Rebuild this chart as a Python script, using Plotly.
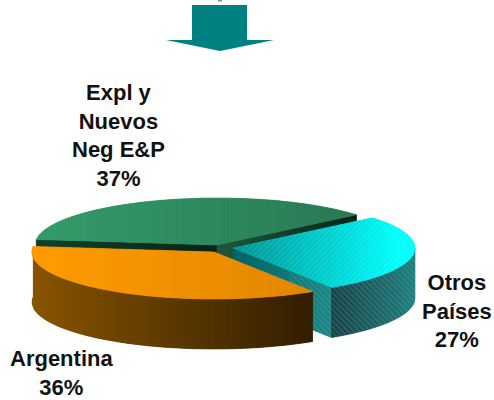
import math
import plotly.graph_objects as go

categories = ["Expl y<br>Nuevos<br>Neg E&P", "Argentina", "Otros<br>Países"]
values = [37, 36, 27]
START = 40.0

A, B, H = 182, 47, 50
CENTERS = [(217, 245), (214, 252), (233, 248)]
LABEL_POS = [(118, 135.5), (61, 373), (457, 311)]

fig = go.Figure()

def lerp(c0, c1, t):
    return tuple(c0[i] + (c1[i] - c0[i]) * t for i in range(3))

def rgb(c):
    return "rgb(%d,%d,%d)" % tuple(round(v) for v in c)

def pt(c, ang, dy=0):
    r = math.radians(ang)
    return (c[0] + A * math.cos(r), c[1] - B * math.sin(r) + dy)

def arc(c, a0, a1, dy=0):
    n = max(2, int(abs(a1 - a0) * 2))
    return [pt(c, a0 + (a1 - a0) * i / n, dy) for i in range(n + 1)]

def clip(poly, x0, x1):
    def half(p, keep, inter):
        out = []
        for i in range(len(p)):
            a, b = p[i], p[(i + 1) % len(p)]
            if keep(a):
                out.append(a)
            if keep(a) != keep(b):
                out.append(inter(a, b))
        return out
    def ix(x):
        return lambda a, b: (x, a[1] + (b[1] - a[1]) * (x - a[0]) / (b[0] - a[0]))
    p = half(poly, lambda q: q[0] >= x0, ix(x0))
    return half(p, lambda q: q[0] <= x1, ix(x1)) if p else p

def add_poly(poly, color, width=1.0, **kw):
    xs = [q[0] for q in poly] + [poly[0][0]]
    ys = [q[1] for q in poly] + [poly[0][1]]
    fig.add_trace(go.Scatter(x=xs, y=ys, mode="lines", fill="toself", fillcolor=color,
                             line=dict(color=color, width=width), hoverinfo="skip",
                             showlegend=False, **kw))

def gradient(poly, stops, step=3):
    xmin = min(q[0] for q in poly)
    xmax = max(q[0] for q in poly)
    # a base fill under the slices hides any seam between them
    mid = rgb(lerp(stops[2], stops[3], 0.5))
    add_poly(poly, mid, width=0)
    x = xmin
    while x < xmax:
        x1 = min(x + step, xmax)
        part = clip(poly, x, x1)
        if len(part) > 2:
            t = ((x + x1) / 2 - stops[0]) / (stops[1] - stops[0])
            t = min(1, max(0, t))
            add_poly(part, rgb(lerp(stops[2], stops[3], t)), width=0.6)
        x = x1

def hatch(poly, shape, fg, opacity, size=4, solidity=0.3):
    xs = [q[0] for q in poly] + [poly[0][0]]
    ys = [q[1] for q in poly] + [poly[0][1]]
    fig.add_trace(go.Scatter(x=xs, y=ys, mode="lines", fill="toself", fillcolor="rgba(0,0,0,0)",
                             line=dict(width=0), hoverinfo="skip", showlegend=False,
                             fillpattern=dict(shape=shape, fgcolor=fg, bgcolor="rgba(0,0,0,0)",
                                              fgopacity=opacity, size=size, solidity=solidity)))

total = sum(values)
angles = [START]
for v in values:
    angles.append(angles[-1] + v / total * 360)

c_g, c_o, c_c = CENTERS
g0, g1 = angles[0], angles[1]
o0, o1 = angles[1], angles[2]
c0, c1 = angles[2], angles[3]

# green cut faces
p_left = pt(c_g, g1)
p_right = pt(c_g, g0)
gradient([c_g, p_left, (p_left[0], p_left[1] + H), (c_g[0], c_g[1] + H)],
         (36, 217, (20, 65, 45), (8, 36, 24)))
gradient([c_g, p_right, (p_right[0], p_right[1] + H), (c_g[0], c_g[1] + H)],
         (217, 356, (32, 88, 60), (8, 36, 24)))
# green top
gradient([c_g] + arc(c_g, g0, g1), (36, 356, (54, 156, 106), (40, 122, 84)))

# cyan cut face, wall, top
pe = pt(c_c, c0)
cut = [c_c, pe, (pe[0], pe[1] + H), (c_c[0], c_c[1] + H)]
gradient(cut, (233, 335, (0, 100, 100), (30, 135, 135)))
hatch(clip(cut, 290, 340), "\\", "rgb(90,170,170)", 0.35)
wall = arc(c_c, c0, 360) + arc(c_c, 360, c0, H)
gradient(wall, (330, 415, (22, 62, 66), (30, 128, 128)))
hatch(wall, "\\", "rgb(120,170,170)", 0.3)
top = [c_c] + arc(c_c, c0, c1)
gradient(top, (240, 400, (0, 150, 150), (0, 255, 255)))
hatch(top, "/", "rgb(170,255,255)", 0.18, size=4, solidity=0.25)

# orange wall, top
wall_o = arc(c_o, o0, o1) + arc(c_o, o1, o0, H)
gradient(wall_o, (33, 312, (136, 84, 0), (50, 30, 0)))
gradient([c_o] + arc(c_o, o0, o1), (33, 312, (255, 156, 0), (226, 135, 0)))

annotations = []
for lab, v, (x, y) in zip(categories, values, LABEL_POS):
    annotations.append(dict(x=x, y=y, xref="x", yref="y", text=f"<b>{lab}<br>{v}%</b>",
                            showarrow=False, align="center", xanchor="center", yanchor="middle",
                            font=dict(family="Liberation Sans", size=22, color="#111111")))

shapes = [
    dict(type="path", path="M192,5 L247,5 L247,40 L274,40 L220,51 L166,40 L192,40 Z",
         fillcolor="rgb(0,128,128)", line=dict(width=0), layer="above"),
    dict(type="rect", x0=218, x1=222, y0=0, y1=1.5, fillcolor="rgb(110,150,190)",
         line=dict(width=0)),
]

fig.update_layout(
    width=494, height=400, margin=dict(l=0, r=0, t=0, b=0),
    paper_bgcolor="white", plot_bgcolor="white", showlegend=False,
    xaxis=dict(range=[0, 494], visible=False, fixedrange=True),
    yaxis=dict(range=[400, 0], visible=False, fixedrange=True),
    annotations=annotations, shapes=shapes,
)
fig.write_html("out.html", config=dict(displayModeBar=False),
               post_script="document.body.style.margin='0';document.body.style.overflow='hidden';")
